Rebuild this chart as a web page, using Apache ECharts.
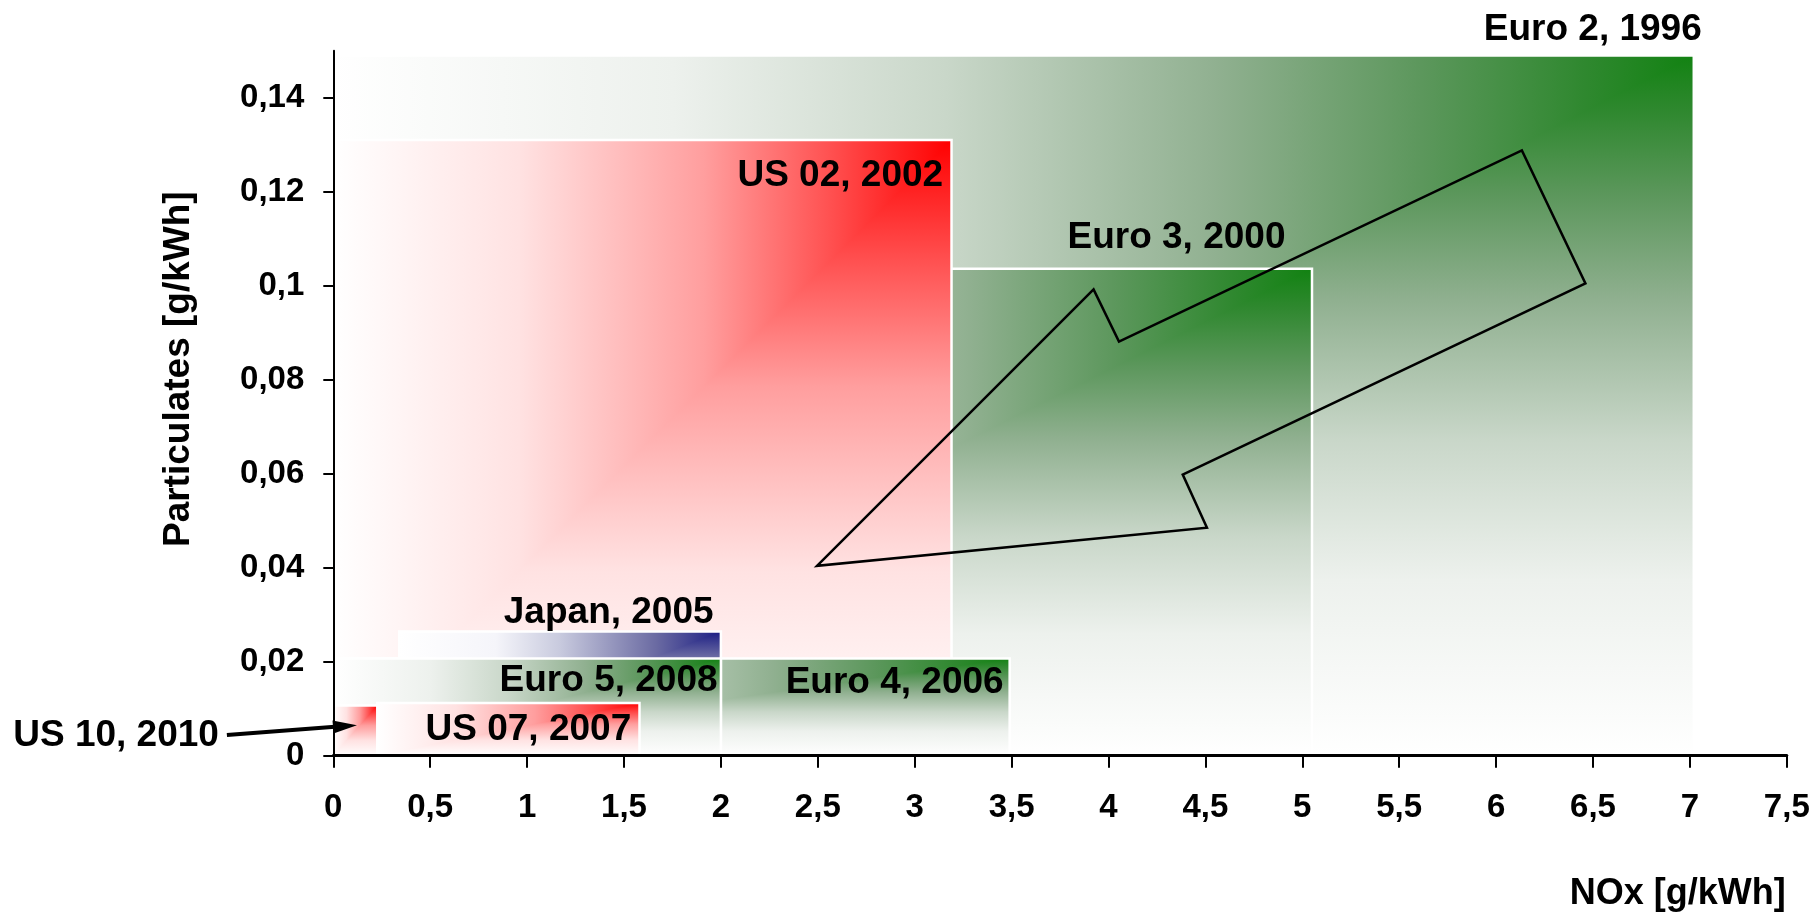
<!DOCTYPE html>
<html><head><meta charset="utf-8">
<script src="https://cdn.jsdelivr.net/npm/echarts@6/dist/echarts.min.js"></script>
<style>html,body{margin:0;padding:0;background:#fff}#chart{width:1816px;height:915px}</style>
</head><body><div id="chart"></div>
<script>
// ---------------- data ----------------
const standards = ['Euro 2, 1996', 'Euro 3, 2000', 'US 02, 2002', 'Euro 4, 2006', 'Japan, 2005', 'Euro 5, 2008', 'US 07, 2007', 'US 10, 2010'];
const noxFrom   = [0, 0, 0, 0, 0.34, 0, 0.227, 0];
const noxLimit  = [7.02, 5.05, 3.19, 3.49, 2.0, 2.0, 1.58, 0.227];
const pmLimit   = [0.149, 0.1036, 0.131, 0.0207, 0.0264, 0.0207, 0.0112, 0.0107];
const xTicks = [0, 0.5, 1, 1.5, 2, 2.5, 3, 3.5, 4, 4.5, 5, 5.5, 6, 6.5, 7, 7.5];
const yTicks = [0, 0.02, 0.04, 0.06, 0.08, 0.1, 0.12, 0.14];
// big trend arrow outline (NOx, PM)
const arrowNox = [2.496, 3.923, 4.054, 6.133, 6.461, 4.383, 4.508];
const arrowPm  = [0.0404, 0.0992, 0.0881, 0.1288, 0.1005, 0.0598, 0.0485];
// pointer to US 10 box (NOx, PM): start, tip
const pointerNox = [-0.549, 0.122];
const pointerPm  = [0.0044, 0.0065];

// ---------------- styles ----------------
const FONT = 'Arial, "Liberation Sans", Helvetica, sans-serif';
const palettes = {
  green: [[0, '#ffffff'], [0.25, '#edf1ed'], [0.45, '#c9d7c9'], [0.65, '#90b090'], [0.8, '#5c975c'], [0.92, '#2f882f'], [1, '#128212']],
  red:   [[0, '#ffffff'], [0.3, '#ffe2e2'], [0.6, '#ff9e9e'], [0.8, '#ff5252'], [1, '#ff0000']],
  blue:  [[0, '#ffffff'], [0.3, '#f5f5fa'], [0.5, '#c8cade'], [0.8, '#6a6aa2'], [1, '#1c1e84']]
};
const boxColor = ['green', 'green', 'red', 'green', 'blue', 'green', 'red', 'red'];
// label placement relative to box top-right corner (px)
const labelLayout = [
  {dx: 8, dy: -25.5}, {dx: -26.5, dy: -30.8}, {dx: -8.4, dy: 35.3}, {dx: -6, dy: 24.7},
  {dx: -7.3, dy: -19.2}, {dx: -3.3, dy: 22.2}, {dx: -8.3, dy: 26.4}, null
];

function grad(horizontal, name) {
  const colorStops = palettes[name].map(s => ({offset: s[0], color: s[1]}));
  return horizontal
    ? {type: 'linear', x: 0, y: 0, x2: 1, y2: 0, colorStops}
    : {type: 'linear', x: 0, y: 1, x2: 0, y2: 0, colorStops};
}
function fmt(v) { return String(+(+v).toFixed(3)).replace('.', ','); }

const boxData = standards.map((s, i) => [noxFrom[i], noxLimit[i], pmLimit[i], i]);

const chart = echarts.init(document.getElementById('chart'), null, {renderer: 'canvas'});
chart.setOption({
  backgroundColor: '#ffffff',
  animation: false,
  grid: {left: 333.3, right: 29.2, top: 50.7, bottom: 159.3, containLabel: false},
  xAxis: {
    type: 'value', min: 0, max: 7.5, interval: 0.5, z: 20,
    name: 'NOx [g/kWh]', nameLocation: 'end', nameGap: -1,
    nameTextStyle: {fontFamily: FONT, fontWeight: 'bold', fontSize: 36, color: '#000', align: 'right', verticalAlign: 'top', padding: [120, 0, 0, 0]},
    splitLine: {show: false},
    axisLine: {show: true, onZero: false, lineStyle: {color: '#000', width: 3}},
    axisTick: {show: true, length: 12, lineStyle: {color: '#000', width: 2}, customValues: xTicks},
    axisLabel: {margin: 36, fontFamily: FONT, fontWeight: 'bold', fontSize: 33, color: '#000', formatter: fmt, customValues: xTicks}
  },
  yAxis: {
    type: 'value', min: 0, max: 0.15, interval: 0.02, z: 20,
    name: 'Particulates [g/kWh]', nameLocation: 'middle', nameGap: 136,
    nameTextStyle: {fontFamily: FONT, fontWeight: 'bold', fontSize: 37, color: '#000', padding: [0, 0, 0, 68]},
    splitLine: {show: false},
    axisLine: {show: true, onZero: false, lineStyle: {color: '#000', width: 2}},
    axisTick: {show: true, length: 10, lineStyle: {color: '#000', width: 2}, customValues: yTicks},
    axisLabel: {margin: 29, fontFamily: FONT, fontWeight: 'bold', fontSize: 33, color: '#000', formatter: fmt, customValues: yTicks}
  },
  series: [
    {
      type: 'custom', name: 'limits', clip: false, z: 2,
      encode: {x: [0, 1], y: 2},
      data: boxData,
      renderItem(params, api) {
        const i = api.value(3);
        const bl = api.coord([api.value(0), 0]);
        const tr = api.coord([api.value(1), api.value(2)]);
        const x0 = bl[0], y0 = bl[1], x1 = tr[0], y1 = tr[1];
        const w = x1 - x0, h = y0 - y1;
        const c = boxColor[i];
        const children = [
          {type: 'rect', shape: {x: x0, y: y1, width: w, height: h}, style: {fill: grad(false, c)}, z2: i * 4},
          {type: 'polygon', shape: {points: [[x0, y1], [x1, y1], [x0, y0]]}, style: {fill: grad(true, c)}, z2: i * 4 + 1},
          {type: 'rect', shape: {x: x0, y: y1, width: w, height: h}, style: {fill: null, stroke: '#ffffff', lineWidth: 2.5}, z2: i * 4 + 2}
        ];
        const lab = labelLayout[i];
        if (lab) {
          children.push({type: 'text', x: x1 + lab.dx, y: y1 + lab.dy, z2: 1000,
            style: {text: standards[i], fill: '#000', font: 'bold 37px ' + FONT, align: 'right', verticalAlign: 'middle'}});
        }
        return {type: 'group', children};
      }
    },
    {
      type: 'custom', name: 'trend', clip: false, z: 5,
      data: [[arrowNox[0], arrowPm[0]]],
      encode: {x: 0, y: 1},
      renderItem(params, api) {
        const pts = arrowNox.map((x, k) => api.coord([x, arrowPm[k]]));
        return {type: 'polygon', shape: {points: pts}, style: {fill: null, stroke: '#000', lineWidth: 2.5, lineJoin: 'miter'}};
      }
    },
    {
      type: 'custom', name: 'pointer', clip: false, z: 6,
      data: [[pointerNox[1], pointerPm[1]]],
      encode: {x: 0, y: 1},
      renderItem(params, api) {
        const a = api.coord([pointerNox[0], pointerPm[0]]);
        const b = api.coord([pointerNox[1], pointerPm[1]]);
        const dx = b[0] - a[0], dy = b[1] - a[1];
        const len = Math.sqrt(dx * dx + dy * dy);
        const ux = dx / len, uy = dy / len;
        const hl = 24, hw = 6.5;
        const base = [b[0] - ux * hl, b[1] - uy * hl];
        return {type: 'group', children: [
          {type: 'line', shape: {x1: a[0], y1: a[1], x2: base[0] + ux * 2, y2: base[1] + uy * 2}, style: {stroke: '#000', lineWidth: 4}},
          {type: 'polygon', shape: {points: [b, [base[0] - uy * hw, base[1] + ux * hw], [base[0] + uy * hw, base[1] - ux * hw]]}, style: {fill: '#000'}},
          {type: 'text', x: a[0] - 8, y: a[1] + 0.5, style: {text: standards[7], fill: '#000', font: 'bold 37px ' + FONT, align: 'right', verticalAlign: 'middle'}}
        ]};
      }
    }
  ]
});
</script>
</body></html>
